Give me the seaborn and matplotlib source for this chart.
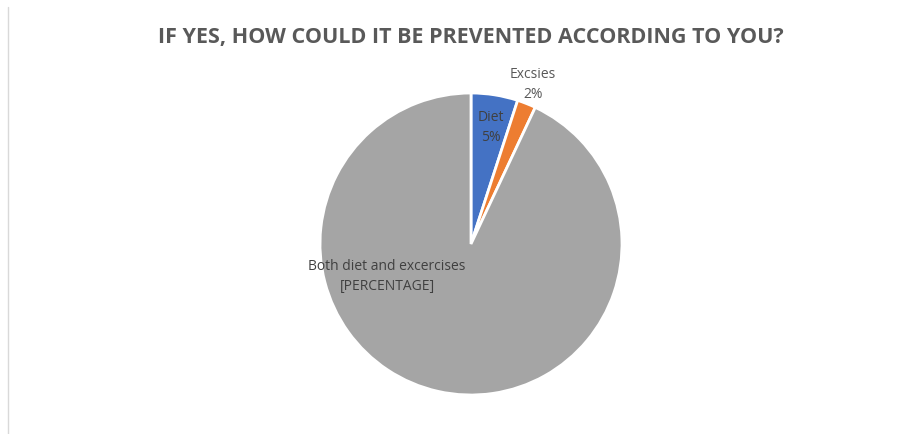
import matplotlib
matplotlib.use("Agg")
import matplotlib.pyplot as plt
import seaborn as sns
from matplotlib.lines import Line2D

sns.set_theme(style="white")
plt.rcParams["font.family"] = ["Open Sans", "DejaVu Sans"]

# Survey answers
categories = ["Diet", "Excsies", "Both diet and excercises"]
shares = [5, 2, 93]
slice_labels = ["Diet\n5%", "Excsies\n2%", "Both diet and excercises\n[PERCENTAGE]"]
colors = ["#4472C4", "#ED7D31", "#A5A5A5"]

W, H = 923, 435
fig = plt.figure(figsize=(W / 100, H / 100), dpi=100)
cx, cy, r = 471, 245, 151
ax = fig.add_axes([(cx - r) / W, (H - cy - r) / H, 2 * r / W, 2 * r / H])

wedges, _ = ax.pie(
    shares,
    colors=colors,
    startangle=90,
    counterclock=False,
    radius=1,
    wedgeprops=dict(edgecolor="white", linewidth=2),
)
ax.set_xlim(-1, 1)
ax.set_ylim(-1, 1)
ax.set_aspect("equal")
ax.axis("off")

label_pos = [(0.13, 0.78), (0.41, 1.06), (-0.556, -0.21)]
label_colors = ["#404040", "#595959", "#404040"]
for txt, (x, y), c in zip(slice_labels, label_pos, label_colors):
    ax.text(x, y, txt, ha="center", va="center", fontsize=10, color=c,
            linespacing=1.45, clip_on=False)

fig.text(471 / W, 1 - 37 / H, "IF YES, HOW COULD IT BE PREVENTED ACCORDING TO YOU?",
         ha="center", va="center", fontsize=15.5, fontweight="bold", color="#595959")

fig.add_artist(Line2D([8 / W, 8 / W], [0, 1 - 8 / H], transform=fig.transFigure,
                      color="#D9D9D9", linewidth=1))

fig.savefig("out.png", dpi=100, facecolor="white")
